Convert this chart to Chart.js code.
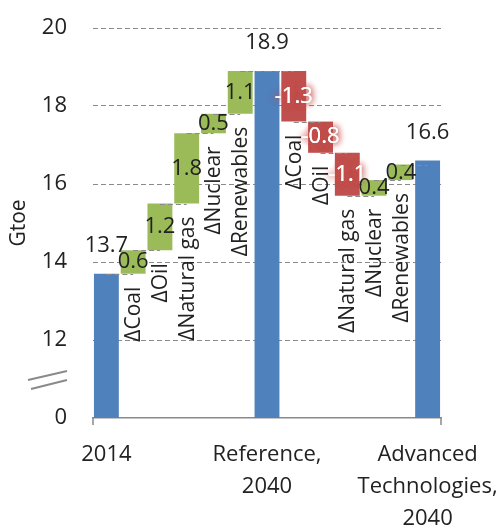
<!DOCTYPE html>
<html>
<head>
<meta charset="utf-8">
<script src="https://cdn.jsdelivr.net/npm/chart.js@4/dist/chart.umd.min.js"></script>
<style>
  html, body { margin: 0; padding: 0; background: #fff; }
  #wrap { width: 500px; height: 529px; }
</style>
</head>
<body>
<div id="wrap"><canvas id="c" width="500" height="529"></canvas></div>
<script>
// ---- data ----
const categories = ['2014', 'ΔCoal', 'ΔOil', 'ΔNatural gas', 'ΔNuclear', 'ΔRenewables',
  'Reference, 2040', 'ΔCoal', 'ΔOil', 'ΔNatural gas', 'ΔNuclear', 'ΔRenewables',
  'Advanced Technologies, 2040'];
const axisLabels = [['2014'], [], [], [], [], [], ['Reference,', '2040'], [], [], [], [], [],
  ['Advanced', 'Technologies,', '2040']];
const kinds = ['total', 'delta', 'delta', 'delta', 'delta', 'delta', 'total',
  'delta', 'delta', 'delta', 'delta', 'delta', 'total'];
const values = [13.7, 0.6, 1.2, 1.8, 0.5, 1.1, 18.9, -1.3, -0.8, -1.1, 0.4, 0.4, 16.6];
const yTickValues = [10, 12, 14, 16, 18, 20];      // 10 stands for the broken-axis "0"
const yTickLabels = ['0', '12', '14', '16', '18', '20'];
const BREAK_BASE = 10;                               // axis position drawn as 0

// ---- build floating bars ----
const ranges = [];
let running = 0;
for (let i = 0; i < values.length; i++) {
  if (kinds[i] === 'total') { ranges.push([BREAK_BASE, values[i]]); running = values[i]; }
  else { ranges.push([running, running + values[i]]); running += values[i]; }
}
const BLUE = '#4F81BD', GREEN = '#9BBB59', RED = '#C0504D';
const colors = values.map((v, i) => kinds[i] === 'total' ? BLUE : (v >= 0 ? GREEN : RED));
const FONT = "'Open Sans', 'Noto Sans', sans-serif";
const TXT = '#222';

const deco = {
  id: 'deco',
  afterDatasetsDraw(chart) {
    const ctx = chart.ctx, xs = chart.scales.x, ys = chart.scales.y, ca = chart.chartArea;
    ctx.save();
    // connectors
    ctx.strokeStyle = '#8a8a8a'; ctx.lineWidth = 1; ctx.setLineDash([5, 3]);
    for (let i = 0; i < ranges.length - 1; i++) {
      const y = Math.round(ys.getPixelForValue(ranges[i][1])) + 0.5;
      ctx.beginPath();
      ctx.moveTo(xs.getPixelForValue(i), y);
      ctx.lineTo(xs.getPixelForValue(i + 1), y);
      ctx.stroke();
    }
    ctx.setLineDash([]);
    // value labels
    ctx.font = '22px ' + FONT;
    ctx.textAlign = 'center'; ctx.textBaseline = 'middle';
    for (let i = 0; i < values.length; i++) {
      const x = xs.getPixelForValue(i);
      const v = values[i];
      const txt = v.toFixed(1);
      if (kinds[i] === 'total') {
        ctx.fillStyle = TXT;
        ctx.fillText(txt, x, ys.getPixelForValue(ranges[i][1]) - 28);
      } else {
        const yc = (ys.getPixelForValue(ranges[i][0]) + ys.getPixelForValue(ranges[i][1])) / 2;
        if (v < 0) {
          ctx.save();
          ctx.shadowColor = RED; ctx.shadowBlur = 7;
          ctx.fillStyle = '#fff';
          ctx.fillText(txt, x, yc);
          ctx.fillText(txt, x, yc);
          ctx.fillText(txt, x, yc);
          ctx.restore();
        } else {
          ctx.fillStyle = TXT;
          ctx.fillText(txt, x, yc);
        }
      }
    }
    // rotated category labels under delta bars
    ctx.font = '21px ' + FONT;
    ctx.fillStyle = TXT;
    ctx.textAlign = 'right'; ctx.textBaseline = 'middle';
    for (let i = 0; i < values.length; i++) {
      if (kinds[i] !== 'delta') continue;
      const lo = Math.min(ranges[i][0], ranges[i][1]);
      const x = xs.getPixelForValue(i) + 1;
      const y = ys.getPixelForValue(lo) + 13;
      ctx.save();
      ctx.translate(x, y);
      ctx.rotate(-Math.PI / 2);
      ctx.fillText(categories[i], 0, 0);
      ctx.restore();
    }
    // end tick marks on the category axis
    ctx.strokeStyle = '#898989'; ctx.lineWidth = 1.5;
    [ca.left, ca.right].forEach(px => {
      ctx.beginPath(); ctx.moveTo(px, ca.bottom); ctx.lineTo(px, ca.bottom + 7); ctx.stroke();
    });
    // axis break marks
    const yb = ys.getPixelForValue(11) + 5;
    ctx.strokeStyle = '#8a8a8a'; ctx.lineWidth = 2;
    ctx.beginPath(); ctx.moveTo(ca.left - 65, yb - 4); ctx.lineTo(ca.left - 26, yb - 13); ctx.stroke();
    ctx.beginPath(); ctx.moveTo(ca.left - 62, yb + 5); ctx.lineTo(ca.left - 26, yb - 4); ctx.stroke();
    ctx.restore();
  }
};

new Chart(document.getElementById('c'), {
  type: 'bar',
  data: {
    labels: categories,
    datasets: [{
      data: ranges,
      backgroundColor: colors,
      borderWidth: 0,
      categoryPercentage: 1.0,
      barPercentage: 0.93
    }]
  },
  options: {
    responsive: false,
    animation: false,
    layout: { padding: { top: 28, right: 59, left: 0, bottom: 0 } },
    plugins: { legend: { display: false }, tooltip: { enabled: false } },
    scales: {
      x: {
        grid: { display: false, drawTicks: false },
        border: { display: true, color: '#898989', width: 1.5 },
        ticks: {
          autoSkip: false, maxRotation: 0, minRotation: 0, padding: 21,
          color: TXT, font: { family: FONT, size: 22, lineHeight: 1.45 },
          callback: (v, i) => axisLabels[i]
        },
        afterFit: s => { s.height = 111; s.paddingLeft = 0; s.paddingRight = 0; }
      },
      y: {
        min: 10, max: 20,
        afterBuildTicks: s => { s.ticks = yTickValues.map(v => ({ value: v })); },
        grid: {
          drawTicks: false,
          color: c => (c.tick && c.tick.value === BREAK_BASE) ? 'rgba(0,0,0,0)' : '#8a8a8a',
          lineWidth: 1
        },
        border: { display: false, dash: [5, 3] },
        ticks: {
          padding: 26, color: TXT, font: { family: FONT, size: 22 },
          callback: v => yTickLabels[yTickValues.indexOf(v)]
        },
        title: {
          display: true, text: 'Gtoe', color: TXT,
          font: { family: FONT, size: 21 }, padding: { top: 6, bottom: 0 }
        },
        afterFit: s => { s.width = 93; s.paddingTop = 0; s.paddingBottom = 0; }
      }
    }
  },
  plugins: [deco]
});
</script>
</body>
</html>
